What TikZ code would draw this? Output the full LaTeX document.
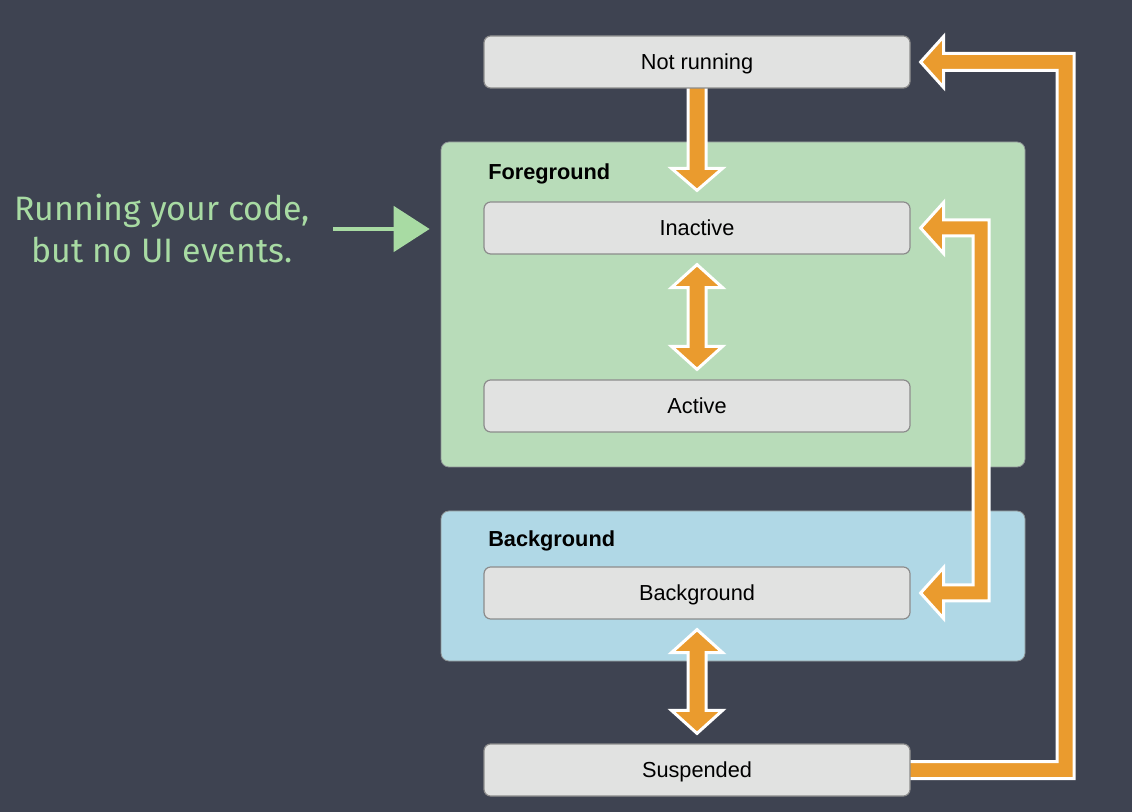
\documentclass[tikz,border=0pt]{standalone}
\usepackage{fontspec}
\setmainfont{Liberation Sans}
\newfontfamily\chalkfont{Fira Sans}
\usetikzlibrary{calc,arrows.meta}
\definecolor{board}{HTML}{3E4351}
\definecolor{orangeA}{HTML}{EA9B2E}
\definecolor{fggreen}{HTML}{B8DCB9}
\definecolor{bgblue}{HTML}{B0D8E6}
\definecolor{boxfill}{HTML}{E1E2E1}
\definecolor{boxline}{HTML}{8C8C8C}
\definecolor{groupline}{HTML}{8E9496}
\definecolor{chalkgreen}{HTML}{A8DBA3}
\pgfdeclarelayer{back}
\pgfdeclarelayer{mid}
\pgfsetlayers{back,mid,main}
\newcommand\vdarrow[2]{\path[orangearrow] ($(#1)+(0,10)$) -- ($(#1)+(25.5,33)$) -- ($(#1)+(9,33)$) -- ($(#2)+(9,-33)$) -- ($(#2)+(25.5,-33)$) -- ($(#2)+(0,-10)$) -- ($(#2)+(-25.5,-33)$) -- ($(#2)+(-9,-33)$) -- ($(#1)+(-9,33)$) -- ($(#1)+(-25.5,33)$) -- cycle;}
\begin{document}
\begin{tikzpicture}[x=0.75pt,y=-0.75pt,
  state/.style={rectangle, rounded corners=5pt, fill=boxfill, draw=boxline, line width=0.9pt,
    minimum width=319.5pt, minimum height=39pt, inner sep=0pt, text height=11.7pt, text depth=0pt,
    font=\fontsize{16.3}{19}\selectfont},
  group/.style={rectangle, rounded corners=6pt, draw=groupline, line width=0.6pt,
    minimum width=438pt, inner sep=0pt},
  grouplabel/.style={anchor=base west, inner sep=0pt, font=\fontsize{16.3}{19}\selectfont\bfseries},
  orangearrow/.style={fill=orangeA, draw=white, line width=2.25pt, line join=miter},
  chalk/.style={text=chalkgreen, align=center, font=\chalkfont\fontsize{25.4}{31.5}\selectfont},
  chalkarrow/.style={draw=chalkgreen, line width=3pt, -{Triangle[length=27pt,width=34pt]}}]
\useasboundingbox (0,0) rectangle (1132,812);
\begin{pgfonlayer}{back}
\fill[board] (0,0) rectangle (1132,812);
\node[group, fill=fggreen, minimum height=243.75pt] (fg) at (733,304.5) {};
\node[group, fill=bgblue, minimum height=112.5pt] (bgg) at (733,586) {};
\end{pgfonlayer}
\node[grouplabel] (fglab) at (488,180) {Foreground};
\node[grouplabel] (bglab) at (488,547) {Background};
\node[state] (nr) at (697,62) {Not running};
\node[state] (inact) at (697,228) {Inactive};
\node[state] (act) at (697,406) {Active};
\node[state] (bg) at (697,593) {Background};
\node[state] (sus) at (697,770) {Suspended};
\node[chalk] (note) at (162,228) {Running your code,\\but no UI events.};
\coordinate (cs) at (333,229);
\draw[chalkarrow, shorten >=8.25pt] (cs) -- (cs -| fg.west);
\begin{pgfonlayer}{mid}
\path[orangearrow] ($(nr.south)+(-9,-4)$) -- ($(nr.south)+(9,-4)$) -- ($(inact.north)+(9,-33)$) -- ($(inact.north)+(25.5,-33)$) -- ($(inact.north)+(0,-11)$) -- ($(inact.north)+(-25.5,-33)$) -- ($(inact.north)+(-9,-33)$) -- cycle;
\vdarrow{inact.south}{act.north}
\vdarrow{bg.south}{sus.north}
\path[orangearrow] ($(sus.east)+(-5,8.5)$) -- ($(sus.east)+(163.5,8.5)$) -- ($(nr.east)+(163.5,-8.5)$) -- ($(nr.east)+(33,-8.5)$) -- ($(nr.east)+(33,-25.5)$) -- ($(nr.east)+(10,0)$) -- ($(nr.east)+(33,25.5)$) -- ($(nr.east)+(33,8.5)$) -- ($(nr.east)+(146.5,8.5)$) -- ($(sus.east)+(146.5,-8.5)$) -- ($(sus.east)+(-5,-8.5)$) -- cycle;
\path[orangearrow] ($(inact.east)+(10,0)$) -- ($(inact.east)+(33,-25.5)$) -- ($(inact.east)+(33,-8)$) -- ($(inact.east)+(78.5,-8)$) -- ($(bg.east)+(78.5,8)$) -- ($(bg.east)+(33,8)$) -- ($(bg.east)+(33,25.5)$) -- ($(bg.east)+(10,0)$) -- ($(bg.east)+(33,-25.5)$) -- ($(bg.east)+(33,-8)$) -- ($(bg.east)+(62.5,-8)$) -- ($(inact.east)+(62.5,8)$) -- ($(inact.east)+(33,8)$) -- ($(inact.east)+(33,25.5)$) -- cycle;
\end{pgfonlayer}
\end{tikzpicture}
\end{document}
